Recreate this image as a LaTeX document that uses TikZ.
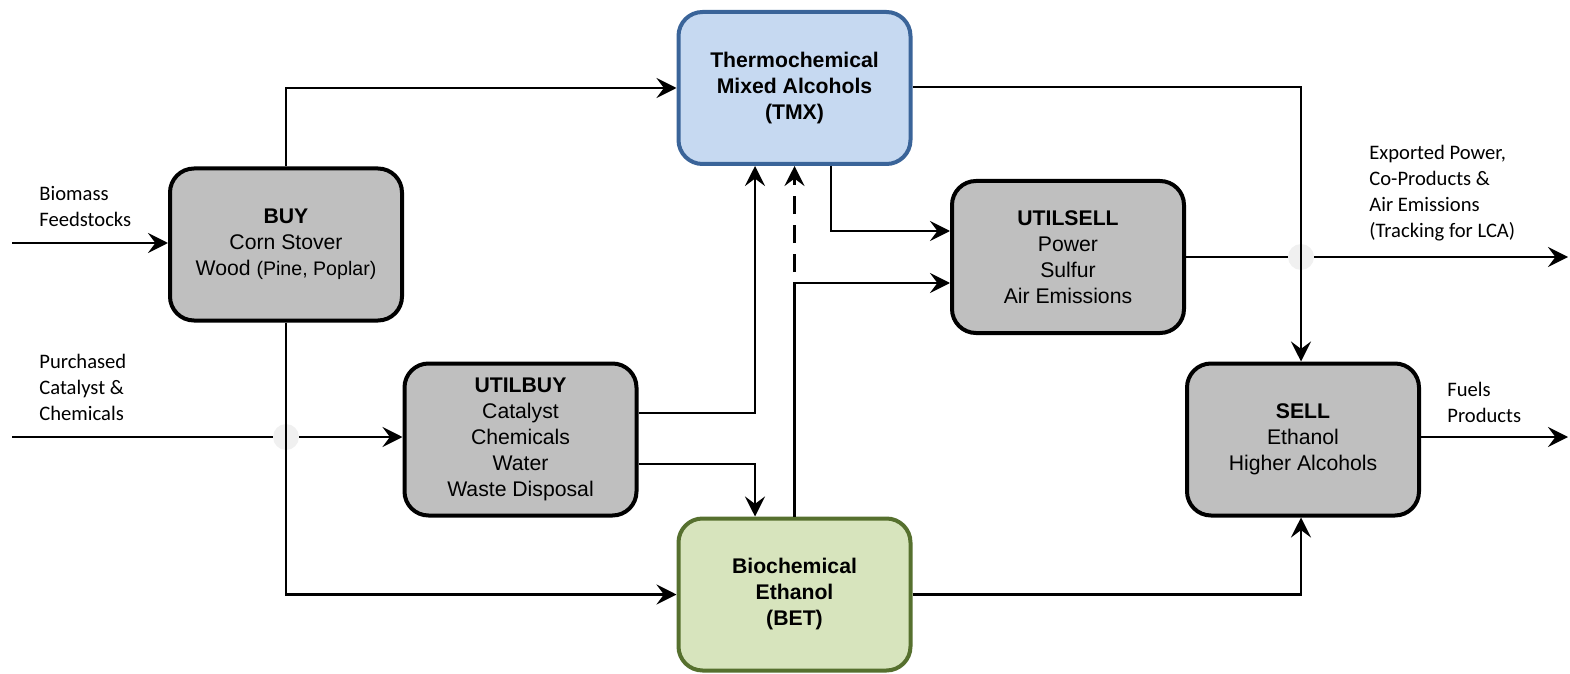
\documentclass[tikz,border=0pt]{standalone}
\usepackage{fontspec}
\setmainfont{Liberation Sans}
\newfontfamily\lblfont{Carlito}
\usetikzlibrary{arrows.meta}
\definecolor{boxgray}{HTML}{BFBFBF}
\definecolor{tmxfill}{HTML}{C6D9F1}
\definecolor{tmxline}{HTML}{3A6499}
\definecolor{betfill}{HTML}{D7E4BD}
\definecolor{betline}{HTML}{56702E}
\definecolor{hopgray}{HTML}{F0F0F0}
\tikzset{
  procbox/.style={draw=black, fill=boxgray, line width=2pt, rounded corners=12pt,
    minimum width=116pt, minimum height=76pt, align=center, inner sep=0pt,
    font=\fontsize{10.6}{13}\selectfont,
    execute at begin node={\rule{0pt}{12.5pt}}},
  tmxbox/.style={procbox, draw=tmxline, fill=tmxfill},
  betbox/.style={procbox, draw=betline, fill=betfill},
  arr/.style={line width=1.4pt, -{Stealth[length=10pt,width=10pt,inset=3.7pt]}},
  lbl/.style={anchor=west, align=left, inner sep=0pt, font=\lblfont\fontsize{10.3}{13}\selectfont},
  hop/.style={circle, fill=hopgray, minimum size=13pt, inner sep=0pt}
}
\begin{document}
\begin{tikzpicture}[x=0.5pt, y=-0.5pt]
\useasboundingbox (0,0) rectangle (1570,674);
% boxes
\node[procbox] (BUY) at (286,244.5) {\textbf{BUY}\\Corn Stover\\Wood {\fontsize{9.8}{13}\selectfont(Pine, Poplar)}};
\node[procbox] (UTILBUY) at (520.5,439.5) {\textbf{UTILBUY}\\Catalyst\\Chemicals\\Water\\Waste Disposal};
\node[tmxbox] (TMX) at (794.5,88) {\textbf{Thermochemical}\\\textbf{Mixed Alcohols}\\\textbf{(TMX)}};
\node[betbox] (BET) at (794.5,594.5) {\textbf{Biochemical}\\\textbf{Ethanol}\\\textbf{(BET)}};
\node[procbox] (UTILSELL) at (1068,257) {\textbf{UTILSELL}\\Power\\Sulfur\\Air Emissions};
\node[procbox] (SELL) at (1303,439.5) {\textbf{SELL}\\Ethanol\\Higher Alcohols};
% labels
\node[lbl] (Lbio) at (39,206) {Biomass\\Feedstocks};
\node[lbl] (Lpur) at (39,387) {Purchased\\Catalyst \&\\Chemicals};
\node[lbl] (Lexp) at (1369,193) {Exported Power,\\Co-Products \&\\Air Emissions\\(Tracking for LCA)};
\node[lbl] (Lfuel) at (1447,402) {Fuels\\Products};
% free ends
\coordinate (bioin) at (12,243);
\coordinate (purin) at (12,437);
\coordinate (expout) at (1568,257);
\coordinate (fuelout) at (1568,437);
% connectors
\draw[arr] (bioin) -- (bioin -| BUY.west);
\draw[arr] (BUY.north) |- (TMX.west);
\draw[arr] (purin) -- (purin -| UTILBUY.west);
\node[hop] (hop1) at (286,437) {};
\draw[arr] (BUY.south) |- (BET.west);
\draw[arr] (UTILBUY.east |- 0,413) -| (755,0 |- TMX.south);
\draw[arr] (UTILBUY.east |- 0,464) -| (755,0 |- BET.north);
\draw[arr] (BET.north) |- (UTILSELL.west |- 0,283);
\draw[arr, dashed, dash pattern=on 9pt off 5.5pt] (BET.north |- 0,272) -- (TMX.south);
\draw[arr] (831,0 |- TMX.south) |- (UTILSELL.west |- 0,231);
\draw[arr] (UTILSELL.east) -- (expout);
\node[hop] (hop2) at (1301,257) {};
\draw[arr] (TMX.east |- 0,87) -| (1301,0 |- SELL.north);
\draw[arr] (SELL.east |- fuelout) -- (fuelout);
\draw[arr] (BET.east) -| (1301,0 |- SELL.south);
\end{tikzpicture}
\end{document}
